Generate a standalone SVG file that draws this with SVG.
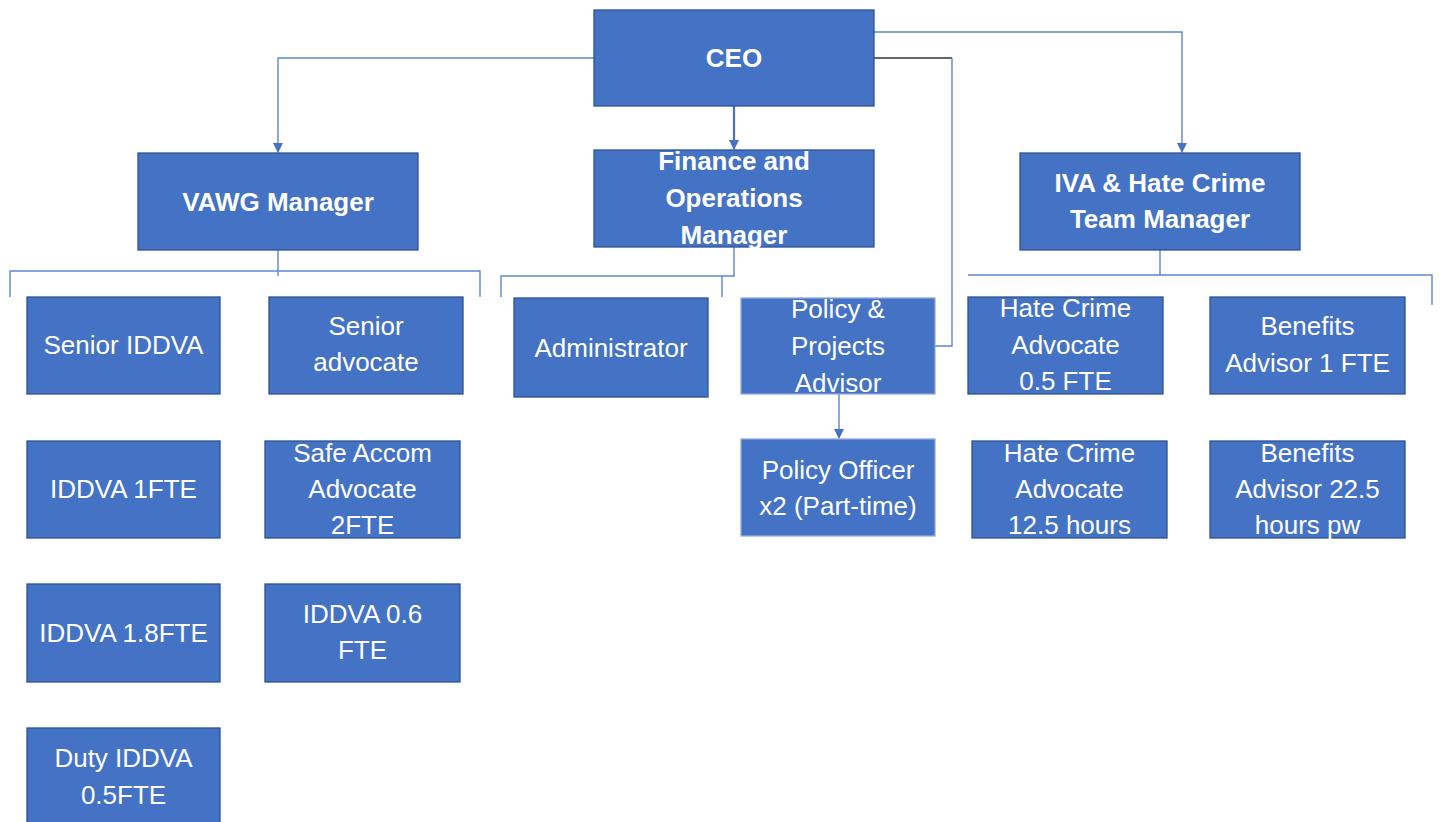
<svg xmlns="http://www.w3.org/2000/svg" width="1440" height="822" viewBox="0 0 1440 822">
<style>
.box{fill:#4472C4;stroke:#2F528F;stroke-width:1.3}
.boxl{fill:#4472C4;stroke:#8FAADC;stroke-width:1.3}
.t{font-family:"Liberation Sans",Arial,sans-serif;font-size:26px;fill:#ffffff;text-anchor:middle}
.b{font-weight:bold}
.c{fill:none;stroke:#5B86D2;stroke-width:1.4}
.k{fill:none;stroke:#333333;stroke-width:1.4}
</style>
<defs>
<marker id="ah" markerWidth="10" markerHeight="10" refX="9" refY="5" orient="auto" markerUnits="userSpaceOnUse">
<path d="M0,0 L10,5 L0,10 Z" fill="#4472C4"/>
</marker>
</defs>
<g id="connectors">
<path class="c" d="M594,58 H278 V152" marker-end="url(#ah)"/>
<path class="c" d="M734,106 V149" style="stroke-width:2.2;stroke:#4472C4" marker-end="url(#ah)"/>
<path class="c" d="M874,32 H1182 V152" marker-end="url(#ah)"/>
<path class="k" d="M874,58 H952"/>
<path class="c" d="M952,58 V346 H935"/>
<path class="c" d="M278,250 V276"/>
<path class="c" d="M10,297 V271 H480 V297"/>
<path class="c" d="M734,247 V276 H501 V297"/>
<path class="c" d="M722,276 V297"/>
<path class="c" d="M1160,250 V275"/>
<path class="c" d="M968,275 H1432 V305"/>
<path class="c" d="M839,394 V438" marker-end="url(#ah)"/>
</g>
<g id="ceo"><rect class="box" x="594" y="10" width="280" height="96"/><text class="t b" x="734" y="67">CEO</text></g>
<g id="vawg"><rect class="box" x="138" y="153" width="280" height="97"/><text class="t b" x="278" y="211">VAWG Manager</text></g>
<g id="finance"><rect class="box" x="594" y="150" width="280" height="97"/><text class="t b" x="734" y="170">Finance and</text><text class="t b" x="734" y="207">Operations</text><text class="t b" x="734" y="244">Manager</text></g>
<g id="iva"><rect class="box" x="1020" y="153" width="280" height="97"/><text class="t b" x="1160" y="192">IVA &amp; Hate Crime</text><text class="t b" x="1160" y="228">Team Manager</text></g>
<g id="senior-iddva"><rect class="box" x="27" y="297" width="193" height="97"/><text class="t" x="123.5" y="354">Senior IDDVA</text></g>
<g id="senior-advocate"><rect class="box" x="269" y="297" width="194" height="97"/><text class="t" x="366" y="335">Senior</text><text class="t" x="366" y="371">advocate</text></g>
<g id="iddva-1fte"><rect class="box" x="27" y="441" width="193" height="97"/><text class="t" x="123.5" y="498">IDDVA 1FTE</text></g>
<g id="safe-accom"><rect class="box" x="265" y="441" width="195" height="97"/><text class="t" x="362.5" y="462">Safe Accom</text><text class="t" x="362.5" y="498">Advocate</text><text class="t" x="362.5" y="534">2FTE</text></g>
<g id="iddva-18fte"><rect class="box" x="27" y="584" width="193" height="98"/><text class="t" x="123.5" y="642">IDDVA 1.8FTE</text></g>
<g id="iddva-06fte"><rect class="box" x="265" y="584" width="195" height="98"/><text class="t" x="362.5" y="623">IDDVA 0.6</text><text class="t" x="362.5" y="659">FTE</text></g>
<g id="duty-iddva"><rect class="box" x="27" y="728" width="193" height="100"/><text class="t" x="123.5" y="767">Duty IDDVA</text><text class="t" x="123.5" y="804">0.5FTE</text></g>
<g id="administrator"><rect class="box" x="514" y="298" width="194" height="99"/><text class="t" x="611" y="357">Administrator</text></g>
<g id="policy-projects"><rect class="boxl" x="741" y="298" width="194" height="96"/><text class="t" x="838" y="318">Policy &amp;</text><text class="t" x="838" y="355">Projects</text><text class="t" x="838" y="392">Advisor</text></g>
<g id="policy-officer"><rect class="boxl" x="741" y="439" width="194" height="97"/><text class="t" x="838" y="479">Policy Officer</text><text class="t" x="838" y="515">x2 (Part-time)</text></g>
<g id="hate-crime-05"><rect class="box" x="968" y="297" width="195" height="97"/><text class="t" x="1065.5" y="317">Hate Crime</text><text class="t" x="1065.5" y="354">Advocate</text><text class="t" x="1065.5" y="390">0.5 FTE</text></g>
<g id="benefits-1fte"><rect class="box" x="1210" y="297" width="195" height="97"/><text class="t" x="1307.5" y="335">Benefits</text><text class="t" x="1307.5" y="372">Advisor 1 FTE</text></g>
<g id="hate-crime-125"><rect class="box" x="972" y="441" width="195" height="97"/><text class="t" x="1069.5" y="462">Hate Crime</text><text class="t" x="1069.5" y="498">Advocate</text><text class="t" x="1069.5" y="534">12.5 hours</text></g>
<g id="benefits-225"><rect class="box" x="1210" y="441" width="195" height="97"/><text class="t" x="1307.5" y="462">Benefits</text><text class="t" x="1307.5" y="498">Advisor 22.5</text><text class="t" x="1307.5" y="534">hours pw</text></g>
</svg>
